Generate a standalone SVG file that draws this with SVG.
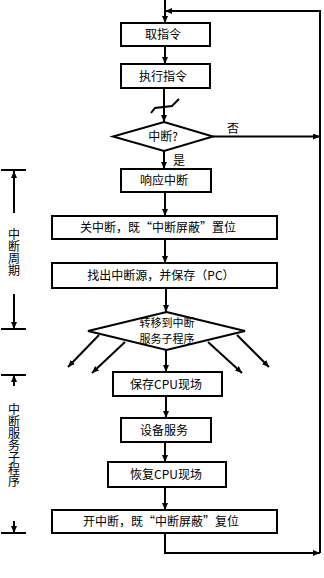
<svg xmlns="http://www.w3.org/2000/svg" width="324" height="578" viewBox="0 0 324 578">
<defs>
<style>
.box{fill:#fff;stroke:#000;stroke-width:2}
.ln{fill:none;stroke:#000;stroke-width:2}
.t{font-family:"Noto Sans CJK SC","Noto Sans",sans-serif;font-size:12px;fill:#000;text-anchor:middle}
.v{font-family:"Noto Sans CJK SC","Noto Sans",sans-serif;font-size:12px;fill:#000;writing-mode:vertical-rl;text-anchor:start}
</style>
<marker id="ah" markerUnits="userSpaceOnUse" markerWidth="7" markerHeight="6" refX="7" refY="3" orient="auto">
<path d="M0,0 L7,3 L0,6 z" fill="#000"/>
</marker>
</defs>
<rect width="324" height="578" fill="#fff"/>
<g id="connectors">
<path class="ln" d="M165,0 V23" marker-end="url(#ah)"/>
<path class="ln" d="M320,553 V11 H165" marker-end="url(#ah)"/>
<path class="ln" d="M165,46 V64" marker-end="url(#ah)"/>
<path class="ln" d="M164,88 V122" marker-end="url(#ah)"/>
<path class="ln" d="M151,113 L155,108 L172,106 L179,99"/>
<path class="ln" d="M213,136.5 H320" marker-end="url(#ah)"/>
<path class="ln" d="M164,151 V169" marker-end="url(#ah)"/>
<path class="ln" d="M165,192 V216" marker-end="url(#ah)"/>
<path class="ln" d="M165,239 V263" marker-end="url(#ah)"/>
<path class="ln" d="M166,288 V312" marker-end="url(#ah)"/>
<path class="ln" d="M166,350 V372" marker-end="url(#ah)"/>
<path class="ln" d="M166,396 V418" marker-end="url(#ah)"/>
<path class="ln" d="M165,442 V462" marker-end="url(#ah)"/>
<path class="ln" d="M165,487 V510" marker-end="url(#ah)"/>
<path class="ln" d="M165,533 V553 H320" marker-end="url(#ah)"/>
<path class="ln" d="M99,335 L68,367" marker-end="url(#ah)"/>
<path class="ln" d="M125,342 L92,373" marker-end="url(#ah)"/>
<path class="ln" d="M208,342 L242,373" marker-end="url(#ah)"/>
<path class="ln" d="M237,335 L269,367" marker-end="url(#ah)"/>
</g>
<g id="bracket1">
<path class="ln" d="M1,170 H26"/>
<path class="ln" d="M14,213 V171" marker-end="url(#ah)"/>
<path class="ln" d="M14,294 V329" marker-end="url(#ah)"/>
<path class="ln" d="M1,329 H26"/>
<text class="v" x="14" y="228">中断周期</text>
</g>
<g id="bracket2">
<path class="ln" d="M1,375 H26"/>
<path class="ln" d="M14,386 V375" marker-end="url(#ah)"/>
<path class="ln" d="M14,521 V533" marker-end="url(#ah)"/>
<path class="ln" d="M1,533 H26"/>
<text class="v" x="14" y="403">中断服务子程序</text>
</g>
<g id="n1"><rect class="box" x="121" y="23" width="89" height="23"/><text class="t" x="163" y="39">取指令</text></g>
<g id="n2"><rect class="box" x="121" y="64" width="89" height="24"/><text class="t" x="163" y="80.5">执行指令</text></g>
<g id="d1"><polygon class="box" points="164,122 213,136.5 164,151 113,136.5"/><text class="t" x="163" y="141">中断?</text></g>
<g id="lbl-no"><text class="t" x="233" y="132.5">否</text></g>
<g id="lbl-yes"><text class="t" x="179" y="164.5">是</text></g>
<g id="n3"><rect class="box" x="121" y="169" width="90" height="23"/><text class="t" x="164" y="185">响应中断</text></g>
<g id="n4"><rect class="box" x="52" y="216" width="225" height="23"/><text class="t" x="158" y="232">关中断，既“中断屏蔽”置位</text></g>
<g id="n5"><rect class="box" x="52" y="263" width="225" height="25"/><text class="t" x="161" y="280">找出中断源，并保存（PC）</text></g>
<g id="d2"><polygon class="box" points="166.5,312 245,331 166.5,350 88,331"/><text class="t" x="167" style="font-size:11px"><tspan x="167" y="327">转移到中断</tspan><tspan x="167" y="343">服务子程序</tspan></text></g>
<g id="n6"><rect class="box" x="113" y="372" width="109" height="24"/><text class="t" x="166" y="388.5">保存CPU现场</text></g>
<g id="n7"><rect class="box" x="121" y="418" width="90" height="24"/><text class="t" x="164" y="434.5">设备服务</text></g>
<g id="n8"><rect class="box" x="108" y="462" width="118" height="25"/><text class="t" x="166" y="479">恢复CPU现场</text></g>
<g id="n9"><rect class="box" x="52" y="510" width="225" height="23"/><text class="t" x="161" y="526">开中断，既“中断屏蔽”复位</text></g>
</svg>
